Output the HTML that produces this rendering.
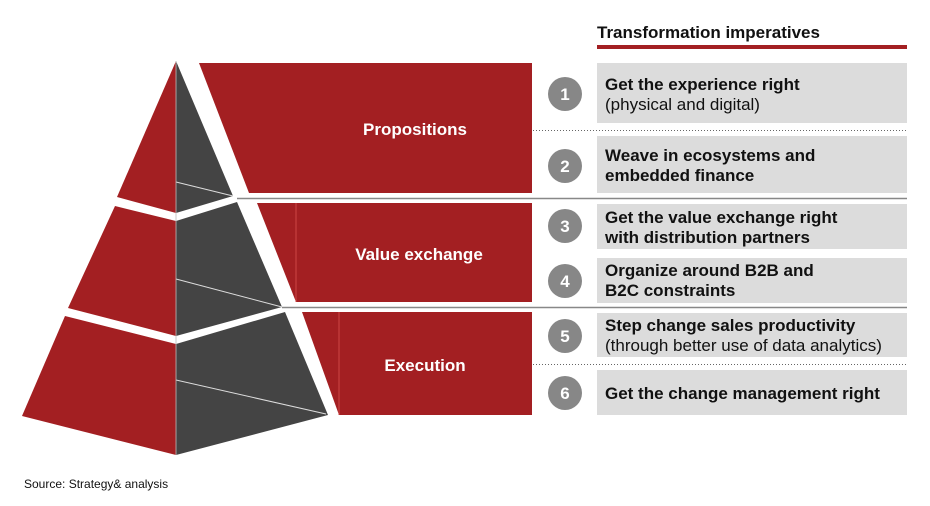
<!DOCTYPE html>
<html><head><meta charset="utf-8"><style>
body{margin:0;background:#fff;}
svg{display:block;font-family:"Liberation Sans",Arial,sans-serif;}
</style></head><body>
<svg width="930" height="506" viewBox="0 0 930 506" xmlns="http://www.w3.org/2000/svg">
<rect width="930" height="506" fill="#fff"/>
<text x="597" y="38" font-size="17" font-weight="bold" fill="#111">Transformation imperatives</text>
<rect x="597" y="45" width="310" height="4" fill="#a31f22"/>
<polygon points="199,63 532,63 532,193 249,193" fill="#a31f22"/>
<polygon points="257,203 532,203 532,302 296,302" fill="#a31f22"/>
<line x1="296" y1="203" x2="296" y2="302" stroke="#c44" stroke-width="1"/>
<polygon points="302,312 532,312 532,415 339,415" fill="#a31f22"/>
<line x1="339" y1="312" x2="339" y2="415" stroke="#c44" stroke-width="1"/>
<text x="415" y="135" font-size="17" font-weight="bold" fill="#fff" text-anchor="middle">Propositions</text>
<text x="419" y="260" font-size="17" font-weight="bold" fill="#fff" text-anchor="middle">Value exchange</text>
<text x="425" y="371" font-size="17" font-weight="bold" fill="#fff" text-anchor="middle">Execution</text>
<line x1="237" y1="198.5" x2="907" y2="198.5" stroke="#888" stroke-width="1.5"/>
<line x1="282" y1="307.5" x2="907" y2="307.5" stroke="#888" stroke-width="1.5"/>
<line x1="533" y1="130.5" x2="907" y2="130.5" stroke="#666" stroke-width="1" stroke-dasharray="1,2"/>
<line x1="533" y1="364.5" x2="907" y2="364.5" stroke="#666" stroke-width="1" stroke-dasharray="1,2"/>
<polygon points="176,61 176,213 117,197" fill="#a31f22"/>
<polygon points="176,61 233,196 176,213" fill="#444"/>
<line x1="176" y1="182" x2="233" y2="196" stroke="#ddd" stroke-width="1"/>
<polygon points="115,206 176,221 176,336 68,308" fill="#a31f22"/>
<polygon points="176,221 237,202 282,307 176,336" fill="#444"/>
<line x1="176" y1="279" x2="282" y2="307" stroke="#ddd" stroke-width="1"/>
<polygon points="65,316 176,344 176,455 22,416" fill="#a31f22"/>
<polygon points="176,344 285,312 328,415 176,455" fill="#444"/>
<line x1="176" y1="380" x2="326" y2="414" stroke="#ddd" stroke-width="1"/>
<line x1="176" y1="61" x2="176" y2="455" stroke="#bbb" stroke-width="0.8"/>
<g fill="#dcdcdc">
<rect x="597" y="63" width="310" height="60"/>
<rect x="597" y="136" width="310" height="57"/>
<rect x="597" y="204" width="310" height="45"/>
<rect x="597" y="258" width="310" height="45"/>
<rect x="597" y="313" width="310" height="44"/>
<rect x="597" y="370" width="310" height="45"/>
</g>
<g fill="#878787">
<circle cx="565" cy="94" r="17"/>
<circle cx="565" cy="166" r="17"/>
<circle cx="565" cy="226" r="17"/>
<circle cx="565" cy="281" r="17"/>
<circle cx="565" cy="336" r="17"/>
<circle cx="565" cy="393" r="17"/>
</g>
<g font-size="17" font-weight="bold" fill="#fff" text-anchor="middle">
<text x="565" y="100">1</text>
<text x="565" y="172">2</text>
<text x="565" y="232">3</text>
<text x="565" y="287">4</text>
<text x="565" y="342">5</text>
<text x="565" y="399">6</text>
</g>
<g font-size="17" fill="#111">
<text x="605" y="90" font-weight="bold">Get the experience right</text>
<text x="605" y="110">(physical and digital)</text>
<text x="605" y="161" font-weight="bold">Weave in ecosystems and</text>
<text x="605" y="181" font-weight="bold">embedded finance</text>
<text x="605" y="223" font-weight="bold">Get the value exchange right</text>
<text x="605" y="243" font-weight="bold">with distribution partners</text>
<text x="605" y="276" font-weight="bold">Organize around B2B and</text>
<text x="605" y="296" font-weight="bold">B2C constraints</text>
<text x="605" y="331" font-weight="bold">Step change sales productivity</text>
<text x="605" y="351">(through better use of data analytics)</text>
<text x="605" y="399" font-weight="bold">Get the change management right</text>
</g>
<text x="24" y="488" font-size="12" fill="#111">Source: Strategy&amp; analysis</text>
</svg>
</body></html>
